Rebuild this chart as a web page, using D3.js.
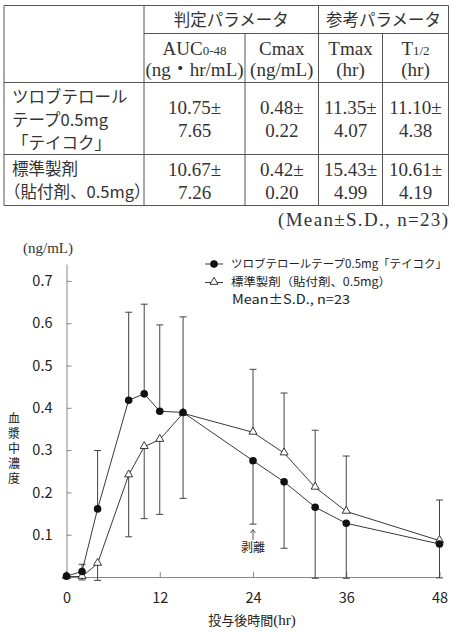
<!DOCTYPE html>
<html>
<head>
<meta charset="utf-8">
<script src="https://cdn.jsdelivr.net/npm/d3@7"></script>
<style>
  body { margin: 0; background: #fff; }
  svg { display: block; }
  .serif { font-family: "Liberation Serif", "Noto Sans CJK JP", serif; }
  .sans { font-family: "Noto Sans CJK JP", "Noto Sans", sans-serif; }
</style>
</head>
<body>
<div id="chart"></div>
<script>
// table values
var groupNames = ["判定パラメータ", "参考パラメータ"];
var paramNames = [["AUC", "0-48"], ["Cmax", ""], ["Tmax", ""], ["T", "1/2"]];
var paramUnits = ["(ng・hr/mL)", "(ng/mL)", "(hr)", "(hr)"];
var rowNames = [["ツロブテロール", "テープ0.5mg", "「テイコク」"], ["標準製剤", "（貼付剤、0.5mg）"]];
var rowMeans = [["10.75", "0.48", "11.35", "11.10"], ["10.67", "0.42", "15.43", "10.61"]];
var rowSDs = [["7.65", "0.22", "4.07", "4.38"], ["7.26", "0.20", "4.99", "4.19"]];
var tableNote = "(Mean±S.D., n=23)";

// chart values
var seriesNames = ["ツロブテロールテープ0.5mg「テイコク」", "標準製剤（貼付剤、0.5mg）"];
var times = [0, 2, 4, 8, 10, 12, 15, 24, 28, 32, 36, 48];
var testMean = [0.002, 0.013, 0.161, 0.418, 0.433, 0.392, 0.389, 0.275, 0.225, 0.165, 0.127, 0.078];
var testSD   = [0, 0.017, 0.138, 0.208, 0.212, 0.204, 0.226, 0.150, 0.157, 0.168, 0.130, 0.080];
var refMean  = [0.001, 0.001, 0.032, 0.241, 0.308, 0.325, 0.387, 0.342, 0.293, 0.212, 0.155, 0.086];
var refSD    = [0, 0.008, 0.040, 0.146, 0.170, 0.177, 0.201, 0.149, 0.142, 0.135, 0.131, 0.096];
var xTicks = [0, 12, 24, 36, 48];
var yTicks = [0.1, 0.2, 0.3, 0.4, 0.5, 0.6, 0.7];

var w = 453, h = 632;
var svg = d3.select("#chart").append("svg")
  .attr("width", w)
  .attr("height", h);

// ---------- table ----------
var colX = [4, 144, 245, 318.5, 382.5, 448.5];
var lineCol = "#555";
var txtCol = "#333";
var tbl = svg.append("g");

function hline(y, x1, x2) {
  tbl.append("line").attr("x1", x1).attr("x2", x2).attr("y1", y).attr("y2", y)
    .attr("stroke", lineCol).attr("stroke-width", 1);
}
function vline(x, y1, y2) {
  tbl.append("line").attr("x1", x).attr("x2", x).attr("y1", y1).attr("y2", y2)
    .attr("stroke", lineCol).attr("stroke-width", 1);
}
hline(5.5, colX[0], colX[5]);
hline(33.5, colX[1], colX[5]);
hline(82.5, colX[0], colX[5]);
hline(154.5, colX[0], colX[5]);
hline(205.5, colX[0], colX[5]);
vline(colX[0], 5.5, 205.5);
vline(colX[1], 5.5, 205.5);
vline(colX[2], 33.5, 205.5);
vline(colX[3], 5.5, 205.5);
vline(colX[4], 33.5, 205.5);
vline(colX[5], 5.5, 205.5);

var tSize = 19;

// group header
[[colX[1], colX[3]], [colX[3], colX[5]]].forEach(function(c, i) {
  tbl.append("text").attr("class", "sans")
    .attr("x", (c[0] + c[1]) / 2).attr("y", 20).attr("dy", "0.35em")
    .attr("text-anchor", "middle").attr("font-size", 16.5).attr("fill", txtCol)
    .text(groupNames[i]);
});

paramNames.forEach(function(p, i) {
  var cx = (colX[i + 1] + colX[i + 2]) / 2;
  var t = tbl.append("text").attr("class", "serif")
    .attr("x", cx).attr("y", 48).attr("dy", "0.35em")
    .attr("text-anchor", "middle").attr("font-size", tSize).attr("fill", txtCol);
  t.append("tspan").text(p[0]);
  if (p[1]) t.append("tspan").attr("font-size", 13).text(p[1]);
  tbl.append("text").attr("class", "serif")
    .attr("x", cx).attr("y", 69).attr("dy", "0.35em")
    .attr("text-anchor", "middle").attr("font-size", tSize).attr("fill", txtCol)
    .text(paramUnits[i]);
});

var rowLineY = [[97, 120, 143], [169, 192]];
var rowValY = [[107, 130], [169, 192]];
rowNames.forEach(function(r, ri) {
  r.forEach(function(s, li) {
    tbl.append("text").attr("class", "sans")
      .attr("x", s.charAt(0) === "（" ? 4 : 12).attr("y", rowLineY[ri][li]).attr("dy", "0.35em")
      .attr("font-size", 16.5).attr("fill", txtCol)
      .text(s);
  });
  for (var ci = 0; ci < 4; ci++) {
    var cx = (colX[ci + 1] + colX[ci + 2]) / 2;
    tbl.append("text").attr("class", "serif")
      .attr("x", cx).attr("y", rowValY[ri][0]).attr("dy", "0.35em")
      .attr("text-anchor", "middle").attr("font-size", tSize).attr("fill", txtCol)
      .text(rowMeans[ri][ci] + "±");
    tbl.append("text").attr("class", "serif")
      .attr("x", cx).attr("y", rowValY[ri][1]).attr("dy", "0.35em")
      .attr("text-anchor", "middle").attr("font-size", tSize).attr("fill", txtCol)
      .text(rowSDs[ri][ci]);
  }
});
tbl.append("text").attr("class", "serif")
  .attr("x", 448).attr("y", 219).attr("dy", "0.35em")
  .attr("text-anchor", "end").attr("font-size", tSize).attr("fill", txtCol)
  .attr("textLength", 170).attr("lengthAdjust", "spacing")
  .text(tableNote);

// ---------- chart ----------
var x = d3.scaleLinear().domain([0, 48]).range([66.5, 439.5]);
var y = d3.scaleLinear().domain([0, 0.74]).range([577, 264]);
var axisCol = "#888";
var markCol = "#222";

var yAxis = d3.axisLeft(y).tickValues(yTicks).tickSize(-5).tickSizeOuter(0)
  .tickPadding(14).tickFormat(d3.format(".1f"));
var gy = svg.append("g").attr("transform", "translate(" + x(0) + ",0)").call(yAxis);
gy.selectAll("path, line").attr("stroke", axisCol);
gy.selectAll("text").attr("class", "sans").attr("font-size", 14.5).attr("fill", "#222");

var xAxis = d3.axisBottom(x).tickValues(xTicks).tickSize(-5).tickSizeOuter(0).tickPadding(16);
var gx = svg.append("g").attr("transform", "translate(0," + y(0) + ")").call(xAxis);
gx.selectAll("path, line").attr("stroke", axisCol);
gx.selectAll("text").attr("class", "sans").attr("font-size", 14.5).attr("fill", "#222");

// unit and axis titles
svg.append("text").attr("class", "serif")
  .attr("x", 48).attr("y", 248).attr("dy", "0.35em")
  .attr("text-anchor", "middle").attr("font-size", 15).attr("fill", txtCol)
  .text("(ng/mL)");

svg.append("text").attr("class", "sans")
  .attr("x", 14).attr("y", 412)
  .style("writing-mode", "vertical-rl")
  .attr("letter-spacing", 3)
  .attr("font-size", 12).attr("fill", "#222")
  .text("血漿中濃度");

var xTitle = svg.append("text").attr("x", 252).attr("y", 619).attr("dy", "0.35em")
  .attr("text-anchor", "middle").attr("fill", "#222");
xTitle.append("tspan").attr("class", "sans").attr("font-size", 13).text("投与後時間");
xTitle.append("tspan").attr("class", "serif").attr("font-size", 15).text("(hr)");

// error bars: one-sided, away from the other series
function errBars(mean, sd, other) {
  var g = svg.append("g");
  times.forEach(function(t, i) {
    if (sd[i] === 0) return;
    var up = mean[i] >= other[i];
    var end = up ? mean[i] + sd[i] : mean[i] - sd[i];
    g.append("line").attr("x1", x(t)).attr("x2", x(t))
      .attr("y1", y(mean[i])).attr("y2", y(end))
      .attr("stroke", "#444").attr("stroke-width", 1);
    g.append("line").attr("x1", x(t) - 3.5).attr("x2", x(t) + 3.5)
      .attr("y1", y(end)).attr("y2", y(end))
      .attr("stroke", "#444").attr("stroke-width", 1);
  });
}
errBars(testMean, testSD, refMean);
errBars(refMean, refSD, testMean);

var line = d3.line().x(function(d) { return x(d[0]); }).y(function(d) { return y(d[1]); });
var refPts = times.map(function(t, i) { return [t, refMean[i]]; });
var testPts = times.map(function(t, i) { return [t, testMean[i]]; });

svg.append("path").datum(refPts).attr("d", line)
  .attr("fill", "none").attr("stroke", markCol).attr("stroke-width", 0.9);
svg.append("path").datum(testPts).attr("d", line)
  .attr("fill", "none").attr("stroke", markCol).attr("stroke-width", 0.9);

var tri = d3.symbol().type(d3.symbolTriangle).size(28);
svg.selectAll(".tri").data(refPts).enter().append("path")
  .attr("class", "tri")
  .attr("transform", function(d) { return "translate(" + x(d[0]) + "," + (y(d[1]) - 0.5) + ")"; })
  .attr("d", tri).attr("fill", "#fff").attr("stroke", markCol).attr("stroke-width", 0.9);

svg.selectAll(".dot").data(testPts).enter().append("circle")
  .attr("class", "dot")
  .attr("cx", function(d) { return x(d[0]); })
  .attr("cy", function(d) { return y(d[1]); })
  .attr("r", 3.8).attr("fill", "#111");

// 剥離 annotation at 24 hr
var ax = x(24);
svg.append("line").attr("x1", ax).attr("x2", ax).attr("y1", 530).attr("y2", 540)
  .attr("stroke", "#333").attr("stroke-width", 0.8);
svg.append("path").attr("d", "M" + (ax - 2.5) + ",533 L" + ax + ",529.5 L" + (ax + 2.5) + ",533")
  .attr("fill", "none").attr("stroke", "#333").attr("stroke-width", 0.8);
svg.append("text").attr("class", "sans")
  .attr("x", ax).attr("y", 548).attr("dy", "0.35em")
  .attr("text-anchor", "middle").attr("font-size", 12).attr("fill", "#222")
  .text("剥離");

// legend
var leg = svg.append("g");
var legY = [264, 282.5];
var legW = [216, 160];
legY.forEach(function(ly, i) {
  leg.append("line").attr("x1", 205).attr("x2", 223).attr("y1", ly).attr("y2", ly)
    .attr("stroke", markCol).attr("stroke-width", 0.9);
  if (i === 0) {
    leg.append("circle").attr("cx", 214).attr("cy", ly).attr("r", 3.8).attr("fill", "#111");
  } else {
    leg.append("path").attr("transform", "translate(214," + (ly - 0.5) + ")")
      .attr("d", tri).attr("fill", "#fff").attr("stroke", markCol).attr("stroke-width", 0.9);
  }
  leg.append("text").attr("class", "sans")
    .attr("x", 231).attr("y", ly).attr("dy", "0.35em")
    .attr("font-size", 11.3).attr("fill", "#222")
    .attr("textLength", legW[i]).attr("lengthAdjust", "spacingAndGlyphs")
    .text(seriesNames[i]);
});
leg.append("text").attr("class", "sans")
  .attr("x", 232).attr("y", 300).attr("dy", "0.35em")
  .attr("font-size", 12.5).attr("fill", "#222")
  .attr("textLength", 118).attr("lengthAdjust", "spacingAndGlyphs")
  .text("Mean±S.D., n=23");
</script>
</body>
</html>
